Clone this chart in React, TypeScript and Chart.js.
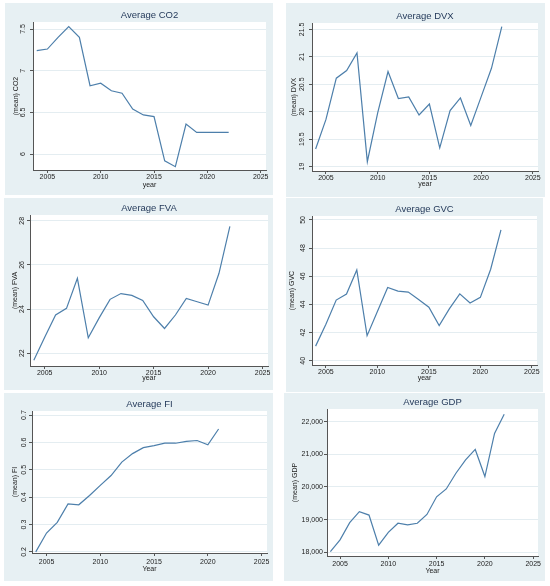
import { useEffect, useRef } from "react";
import { Chart, registerables } from "chart.js";

Chart.register(...registerables);

// ---- data ----
const years = [2004, 2005, 2006, 2007, 2008, 2009, 2010, 2011, 2012, 2013, 2014, 2015, 2016, 2017, 2018, 2019, 2020, 2021, 2022];
const fiYears = [2004, 2005, 2006, 2007, 2008, 2009, 2010, 2011, 2012, 2013, 2014, 2015, 2016, 2017, 2018, 2019, 2020, 2021];

const co2 = [7.24, 7.26, 7.4, 7.53, 7.4, 6.82, 6.85, 6.76, 6.73, 6.54, 6.47, 6.45, 5.92, 5.85, 6.36, 6.26, 6.26, 6.26, 6.26];
const dvx = [19.32, 19.86, 20.61, 20.75, 21.07, 19.09, 19.98, 20.73, 20.24, 20.27, 19.94, 20.14, 19.34, 20.02, 20.25, 19.75, 20.27, 20.79, 21.55];
const fva = [21.68, 22.72, 23.73, 24.03, 25.39, 22.7, 23.6, 24.44, 24.7, 24.62, 24.39, 23.65, 23.12, 23.73, 24.48, 24.33, 24.18, 25.62, 27.74];
const gvc = [41.04, 42.6, 44.31, 44.74, 46.45, 41.78, 43.5, 45.2, 44.95, 44.88, 44.35, 43.8, 42.5, 43.7, 44.75, 44.1, 44.5, 46.5, 49.3];
const fi = [0.2, 0.269, 0.308, 0.375, 0.372, 0.406, 0.443, 0.479, 0.528, 0.559, 0.581, 0.588, 0.597, 0.597, 0.604, 0.607, 0.591, 0.649];
const gdp = [18020, 18380, 18910, 19245, 19140, 18220, 18610, 18890, 18840, 18890, 19160, 19700, 19940, 20420, 20830, 21150, 20320, 21640, 22230];

const yearTicks = [2005, 2010, 2015, 2020, 2025];
const co2Ticks = [6, 6.5, 7, 7.5];
const dvxTicks = [19, 19.5, 20, 20.5, 21, 21.5];
const fvaTicks = [22, 24, 26, 28];
const gvcTicks = [40, 42, 44, 46, 48, 50];
const fiTicks = [0.2, 0.3, 0.4, 0.5, 0.6, 0.7];
const gdpTicks = [18000, 19000, 20000, 21000, 22000];

// ---- style ----
const FONT = "'Liberation Sans', Arial, sans-serif";
const PANEL_BG = "#e7f0f3";
const GRID = "#e4edf1";
const LINE = "#4d7fab";
const AXIS = "#555555";
const TEXT = "#222222";
const TITLE = "#1f3556";
const TICK_SIZE = 7;
const TICK_LEN = 3;

type Spec = {
  title: string;
  yTitle: string;
  xTitle: string;
  xs: number[];
  ys: number[];
  yTicks: number[];
  yMin: number;
  yMax: number;
  box: [number, number, number, number]; // left, top, width, height
  area: [number, number, number, number]; // left, top, right, bottom margins
  rotate: boolean;
  money?: boolean;
  yLabelOffset: number; // label centre to axis
  yTitleX: number; // y title centre from panel left
  xLabelPad: number;
  xTitleFromAxis: number;
};

const specs: Spec[] = [
  {
    title: "Average CO2", yTitle: "(mean) CO2", xTitle: "year", xs: years, ys: co2,
    yTicks: co2Ticks, yMin: 5.81, yMax: 7.584,
    box: [5, 3, 268, 192], area: [28, 19, 7, 25], rotate: true,
    yLabelOffset: 10, yTitleX: 10.7, xLabelPad: 0, xTitleFromAxis: 14.6,
  },
  {
    title: "Average DVX", yTitle: "(mean) DVX", xTitle: "year", xs: years, ys: dvx,
    yTicks: dvxTicks, yMin: 18.92, yMax: 21.615,
    box: [286, 3, 259, 194], area: [26, 20, 7, 26], rotate: true,
    yLabelOffset: 10, yTitleX: 8, xLabelPad: 0, xTitleFromAxis: 12.8,
  },
  {
    title: "Average FVA", yTitle: "(mean) FVA", xTitle: "year", xs: years, ys: fva,
    yTicks: fvaTicks, yMin: 21.42, yMax: 28.26,
    box: [4, 198, 269, 192], area: [26, 17, 5, 24], rotate: true,
    yLabelOffset: 7.5, yTitleX: 11, xLabelPad: 0, xTitleFromAxis: 12.5,
  },
  {
    title: "Average GVC", yTitle: "(mean) GVC", xTitle: "year", xs: years, ys: gvc,
    yTicks: gvcTicks, yMin: 39.7, yMax: 50.28,
    box: [286, 198, 257, 194], area: [26, 18, 6, 27], rotate: true,
    yLabelOffset: 8.7, yTitleX: 6.5, xLabelPad: 0, xTitleFromAxis: 13,
  },
  {
    title: "Average FI", yTitle: "(mean) FI", xTitle: "Year", xs: fiYears, ys: fi,
    yTicks: fiTicks, yMin: 0.196, yMax: 0.7147,
    box: [4, 393, 269, 188], area: [28, 18, 6, 28], rotate: true,
    yLabelOffset: 8, yTitleX: 11, xLabelPad: 1.5, xTitleFromAxis: 15.7,
  },
  {
    title: "Average GDP", yTitle: "(mean) GDP", xTitle: "Year", xs: years, ys: gdp,
    yTicks: gdpTicks, yMin: 17887, yMax: 22388,
    box: [284, 393, 261, 188], area: [43, 16, 7, 25], rotate: false, money: true,
    yLabelOffset: 0, yTitleX: 11, xLabelPad: 1, xTitleFromAxis: 15,
  },
];

const measureCtx = document.createElement("canvas").getContext("2d")!;
function textWidth(t: string, size: number) {
  measureCtx.font = `${size}px ${FONT}`;
  return measureCtx.measureText(t).width;
}

const fmt = (s: Spec, v: number) => (s.money ? Number(v).toLocaleString("en-US") : String(v));

const plotBg = {
  id: "plotBg",
  beforeDraw(chart: Chart) {
    const { ctx, chartArea: a } = chart;
    ctx.save();
    ctx.fillStyle = "#ffffff";
    ctx.fillRect(a.left, a.top, a.right - a.left, a.bottom - a.top);
    ctx.restore();
  },
};

function Panel({ spec }: { spec: Spec }) {
  const canvasRef = useRef<HTMLCanvasElement>(null);
  const [bx, by, bw, bh] = spec.box;

  useEffect(() => {
    if (!canvasRef.current) return;
    const [L, T, R, B] = spec.area;
    const widest = Math.max(...spec.yTicks.map((v) => textWidth(fmt(spec, v), TICK_SIZE)));
    const yPad = spec.rotate ? spec.yLabelOffset - TICK_LEN - widest / 2 : 1;
    const axisLh = TICK_SIZE * 1.2;

    const chart = new Chart(canvasRef.current, {
      type: "line",
      data: {
        datasets: [
          {
            data: spec.xs.map((x, i) => ({ x, y: spec.ys[i] })),
            borderColor: LINE,
            borderWidth: 1.2,
            pointRadius: 0,
            tension: 0,
            fill: false,
          },
        ],
      },
      options: {
        animation: false,
        responsive: false,
        layout: { padding: { left: 0, right: R, top: 0, bottom: 0 } },
        plugins: {
          legend: { display: false },
          tooltip: { enabled: false },
          title: {
            display: true,
            text: spec.title,
            color: TITLE,
            fullSize: false,
            font: { family: FONT, size: 9.5, weight: "normal" },
            padding: { top: T - 9.5 * 1.2 - 0.5, bottom: 0.5 },
          },
        },
        scales: {
          x: {
            type: "linear",
            min: 2003.65,
            max: 2025.5,
            afterBuildTicks: (sc: any) => {
              sc.ticks = yearTicks.map((v) => ({ value: v }));
            },
            afterFit: (sc: any) => {
              sc.height = B;
            },
            grid: { drawOnChartArea: false, tickLength: TICK_LEN, tickColor: AXIS, tickWidth: 1 },
            border: { display: true, color: AXIS, width: 1 },
            ticks: {
              color: TEXT,
              font: { family: FONT, size: TICK_SIZE },
              padding: spec.xLabelPad,
              maxRotation: 0,
              autoSkip: false,
              callback: (v: any) => String(v),
            },
            title: {
              display: true,
              text: spec.xTitle,
              color: TEXT,
              font: { family: FONT, size: TICK_SIZE },
              padding: { top: 0, bottom: B - spec.xTitleFromAxis - axisLh / 2 },
            },
          },
          y: {
            min: spec.yMin,
            max: spec.yMax,
            afterBuildTicks: (sc: any) => {
              sc.ticks = spec.yTicks.map((v) => ({ value: v }));
            },
            afterFit: (sc: any) => {
              sc.width = L;
            },
            grid: { color: GRID, lineWidth: 1, tickLength: TICK_LEN, tickColor: AXIS, tickWidth: 1 },
            border: { display: true, color: AXIS, width: 1 },
            ticks: {
              color: TEXT,
              font: { family: FONT, size: TICK_SIZE },
              autoSkip: false,
              padding: yPad,
              minRotation: spec.rotate ? 90 : 0,
              maxRotation: spec.rotate ? 90 : 0,
              crossAlign: spec.rotate ? "center" : "near",
              callback: (v: any) => fmt(spec, Number(v)),
            },
            title: {
              display: true,
              text: spec.yTitle,
              color: TEXT,
              font: { family: FONT, size: TICK_SIZE },
              padding: { top: spec.yTitleX - axisLh / 2, bottom: 0 },
            },
          },
        },
      } as any,
      plugins: [plotBg],
    });
    return () => chart.destroy();
  }, [spec]);

  return (
    <div style={{ position: "absolute", left: bx, top: by, width: bw, height: bh, background: PANEL_BG }}>
      <canvas ref={canvasRef} width={bw} height={bh} style={{ display: "block", width: bw, height: bh }} />
    </div>
  );
}

export default function App() {
  return (
    <div style={{ position: "absolute", left: 0, top: 0, width: 550, height: 586, background: "#ffffff", overflow: "hidden" }}>
      {specs.map((s) => (
        <Panel key={s.title} spec={s} />
      ))}
    </div>
  );
}
